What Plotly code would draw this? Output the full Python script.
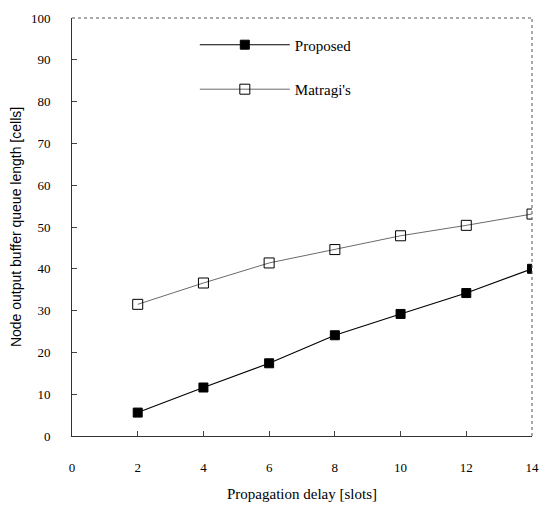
import plotly.graph_objects as go

delay = [2, 4, 6, 8, 10, 12, 14]
proposed = [5.6, 11.6, 17.4, 24.1, 29.2, 34.2, 40.0]
matragi = [31.5, 36.6, 41.4, 44.6, 47.9, 50.4, 53.1]

x_ticks = [0, 2, 4, 6, 8, 10, 12, 14]
y_ticks = [0, 10, 20, 30, 40, 50, 60, 70, 80, 90, 100]

font = "Liberation Serif, Times New Roman, serif"

fig = go.Figure()
fig.add_trace(go.Scatter(
    x=delay, y=proposed, name="Proposed", mode="lines+markers",
    line=dict(color="black", width=1.1),
    marker=dict(symbol="square", size=9, color="black", line=dict(color="black", width=1)),
    legendgroup="a",
))
fig.add_trace(go.Scatter(
    x=delay, y=matragi, name="Matragi's", mode="lines+markers",
    line=dict(color="#444444", width=0.8),
    marker=dict(symbol="square-open", size=10, color="black", line=dict(color="black", width=1)),
    legendgroup="b",
))

fig.update_layout(
    width=546, height=501,
    margin=dict(l=64, r=22, t=10, b=73),
    paper_bgcolor="white", plot_bgcolor="white",
    font=dict(family=font, size=12, color="black"),
    showlegend=True,
    legend=dict(x=0.267, y=0.975, xanchor="left", yanchor="top",
                bgcolor="rgba(0,0,0,0)", tracegroupgap=22,
                font=dict(size=15), itemwidth=90),
    xaxis=dict(range=[0, 14], tickvals=x_ticks, ticks="inside", ticklen=5,
               tickcolor="#444", showline=True, linecolor="#333", linewidth=1,
               mirror=False, showgrid=False, zeroline=False, automargin=False,
               ticklabelstandoff=19,
               tickfont=dict(size=13),
               title=dict(text="Propagation delay [slots]", font=dict(size=15), standoff=14)),
    yaxis=dict(range=[0, 100], tickvals=y_ticks, ticks="inside", ticklen=5,
               tickcolor="#444", showline=True, linecolor="#333", linewidth=1,
               mirror=False, showgrid=False, zeroline=False, automargin=False,
               ticklabelstandoff=18,
               tickfont=dict(size=13),
               title=dict(text="Node output buffer queue length [cells]",
                          font=dict(size=14, family="Liberation Sans, Arial, sans-serif"),
                          standoff=11)),
    shapes=[
        dict(type="line", xref="paper", yref="paper", x0=0, x1=1, y0=1, y1=1,
             line=dict(color="#555", width=1, dash="dot")),
        dict(type="line", xref="paper", yref="paper", x0=1, x1=1, y0=0, y1=1,
             line=dict(color="#555", width=1, dash="dot")),
    ],
)

fig.write_html("out.html")
